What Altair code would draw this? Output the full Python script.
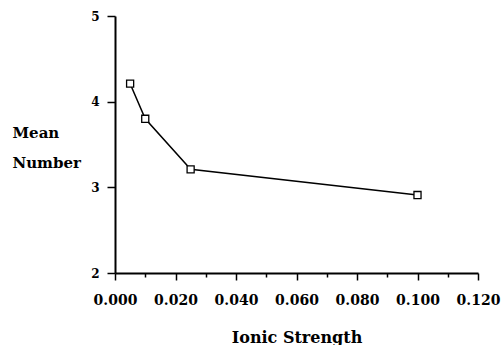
import altair as alt
import pandas as pd

ionic = [0.005, 0.010, 0.025, 0.100]
mean_number = [4.21, 3.80, 3.21, 2.91]

x_ticks = [round(i * 0.01, 3) for i in range(13)]
y_ticks = [2, 2.5, 3, 3.5, 4, 4.5, 5]

df = pd.DataFrame({"ionic": ionic, "mean": mean_number})

FONT = "DejaVu Serif"

x_axis = alt.Axis(
    values=x_ticks,
    format=".3f",
    labelExpr="round(datum.value*100) % 2 == 0 ? datum.label : ''",
    tickSize={"condition": {"test": "round(datum.value*100) % 2 == 0", "value": 7}, "value": 4},
    tickColor="black", tickWidth=1.5,
    domainColor="black", domainWidth=2,
    labelFont=FONT, labelFontWeight="bold", labelFontSize=14, labelColor="black",
    labelPadding=13, labelFlush=False, labelOverlap=False,
    grid=False,
    title="Ionic Strength", titleFont=FONT, titleFontWeight="bold", titleFontSize=16,
    titleColor="black", titlePadding=22,
)
y_axis = alt.Axis(
    values=y_ticks,
    format="d",
    labelExpr="datum.value % 1 == 0 ? datum.label : ''",
    tickSize={"condition": {"test": "datum.value % 1 == 0", "value": 8}, "value": 3},
    tickColor="black", tickWidth=1.5,
    domainColor="black", domainWidth=2,
    labelFont=FONT, labelFontWeight="bold", labelFontSize=12, labelColor="black",
    labelPadding=8, labelFlush=False, labelOverlap=False,
    grid=False,
    title=["Mean", "Number"], titleFont=FONT, titleFontWeight="bold", titleFontSize=15,
    titleColor="black", titleAngle=0, titleAlign="left", titleBaseline="alphabetic",
    titleX=-103, titleY=121, titleLineHeight=30,
)

x = alt.X("ionic:Q", scale=alt.Scale(domain=[0, 0.12], nice=False, zero=False), axis=x_axis)
y = alt.Y("mean:Q", scale=alt.Scale(domain=[2, 5], nice=False, zero=False), axis=y_axis)

base = alt.Chart(df).encode(x=x, y=y)
line = base.mark_line(color="black", strokeWidth=1.5)
pts = base.mark_point(shape="square", size=50, filled=True, fill="white",
                      stroke="black", strokeWidth=1.3, opacity=1)

chart = (line + pts).properties(
    width=363, height=257,
    autosize=alt.AutoSizeParams(type="none"),
    padding={"left": 115, "top": 16, "right": 24, "bottom": 72},
    background="white",
).configure_view(stroke=None)

chart.save("out.html", embed_options={"renderer": "svg", "actions": False})
